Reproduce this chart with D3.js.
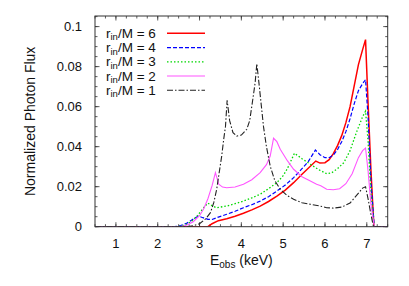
<!DOCTYPE html>
<html>
<head>
<meta charset="utf-8">
<script src="https://cdn.jsdelivr.net/npm/d3@7"></script>
<style>
  body { margin: 0; background: #fff; }
  text { font-family: "Liberation Sans", Arial, sans-serif; fill: #111; }
</style>
</head>
<body>
<svg id="chart" width="409" height="286"></svg>
<script>
// ---- data (E in keV, normalized flux) ----
var xTicks = [1, 2, 3, 4, 5, 6, 7];
var yTicks = [0, 0.02, 0.04, 0.06, 0.08, 0.1];
var radii = [6, 4, 3, 2, 1];

var e6 = [0.5, 3.2, 3.3, 3.45, 3.65, 3.85, 4.05, 4.25, 4.45, 4.65, 4.85, 5.05, 5.25, 5.45, 5.6, 5.78, 5.88, 6.0, 6.1, 6.2, 6.3, 6.4, 6.5, 6.6, 6.7, 6.8, 6.9, 6.97, 7.03, 7.1, 7.17, 7.5];
var f6 = [0, 0, 0.0015, 0.003, 0.004, 0.0052, 0.0067, 0.0084, 0.0103, 0.0126, 0.0153, 0.0183, 0.022, 0.0262, 0.0292, 0.0328, 0.0318, 0.032, 0.0335, 0.0365, 0.0405, 0.0455, 0.052, 0.06, 0.0705, 0.081, 0.0885, 0.0935, 0.062, 0.028, 0, 0];

var e4 = [0.5, 2.4, 2.55, 2.7, 2.85, 2.97, 3.08, 3.2, 3.3, 3.45, 3.65, 3.85, 4.05, 4.25, 4.45, 4.65, 4.85, 5.05, 5.25, 5.45, 5.6, 5.77, 5.88, 6.0, 6.1, 6.2, 6.3, 6.4, 6.5, 6.6, 6.7, 6.8, 6.9, 6.97, 7.03, 7.1, 7.18, 7.5];
var f4 = [0, 0, 0.0006, 0.0018, 0.0038, 0.0053, 0.0045, 0.0037, 0.0036, 0.0048, 0.0062, 0.0077, 0.0095, 0.011, 0.0128, 0.015, 0.0178, 0.0208, 0.0245, 0.029, 0.0325, 0.0383, 0.036, 0.0345, 0.0345, 0.0358, 0.0385, 0.0425, 0.0475, 0.054, 0.0615, 0.068, 0.0715, 0.0735, 0.055, 0.022, 0, 0];

var e3 = [0.5, 2.5, 2.65, 2.8, 2.95, 3.1, 3.2, 3.3, 3.4, 3.65, 3.85, 4.05, 4.25, 4.45, 4.65, 4.85, 5.0, 5.1, 5.27, 5.45, 5.65, 5.85, 6.04, 6.15, 6.3, 6.45, 6.6, 6.75, 6.9, 6.97, 7.03, 7.1, 7.18, 7.5];
var f3 = [0, 0, 0.0008, 0.0025, 0.0055, 0.0095, 0.0118, 0.0105, 0.0095, 0.0103, 0.0115, 0.0128, 0.0144, 0.0162, 0.019, 0.022, 0.0255, 0.029, 0.0367, 0.034, 0.0312, 0.0285, 0.0265, 0.0268, 0.029, 0.032, 0.038, 0.047, 0.055, 0.0577, 0.043, 0.016, 0, 0];

var e2 = [0.5, 2.55, 2.7, 2.85, 3.0, 3.1, 3.2, 3.3, 3.38, 3.46, 3.55, 3.65, 3.85, 4.05, 4.25, 4.45, 4.6, 4.69, 4.77, 4.85, 4.93, 5.1, 5.25, 5.45, 5.65, 5.8, 5.9, 6.04, 6.2, 6.35, 6.5, 6.65, 6.8, 6.9, 6.97, 7.03, 7.1, 7.18, 7.5];
var f2 = [0, 0, 0.0008, 0.0025, 0.0055, 0.009, 0.014, 0.0205, 0.027, 0.0212, 0.0198, 0.0195, 0.0198, 0.0212, 0.0235, 0.027, 0.031, 0.0353, 0.0442, 0.0425, 0.0387, 0.033, 0.0287, 0.025, 0.0228, 0.0212, 0.0205, 0.0187, 0.0185, 0.019, 0.0215, 0.0265, 0.0345, 0.038, 0.0393, 0.028, 0.011, 0, 0];

var e1 = [0.5, 2.7, 2.85, 3.0, 3.15, 3.26, 3.34, 3.41, 3.47, 3.53, 3.58, 3.62, 3.66, 3.72, 3.8, 3.89, 4.0, 4.13, 4.2, 4.29, 4.33, 4.37, 4.42, 4.48, 4.53, 4.6, 4.69, 4.8, 4.93, 5.1, 5.25, 5.45, 5.65, 5.85, 6.04, 6.2, 6.4, 6.6, 6.75, 6.9, 6.97, 7.03, 7.1, 7.16, 7.5];
var f1 = [0, 0, 0.0005, 0.0015, 0.004, 0.007, 0.012, 0.0187, 0.027, 0.0353, 0.044, 0.05, 0.0632, 0.053, 0.047, 0.0453, 0.0458, 0.0487, 0.053, 0.066, 0.072, 0.0815, 0.072, 0.06, 0.05, 0.04, 0.0303, 0.023, 0.0187, 0.0155, 0.0137, 0.012, 0.0112, 0.0105, 0.0095, 0.0093, 0.0098, 0.0118, 0.0155, 0.0193, 0.02, 0.014, 0.006, 0, 0];

var energies = [e6, e4, e3, e2, e1];
var fluxes = [f6, f4, f3, f2, f1];

// ---- styling ----
var colors = ['#ff0000', '#0000ff', '#00d800', '#ff55ff', '#222222'];
var dashes = [null, '4,2', '1.5,2', null, '6,2,1.5,2'];
var widths = [1.5, 1.2, 1.3, 1.1, 1.1];

var svg = d3.select('#chart'),
    margin = { left: 95, top: 16, right: 409 - 387.7, bottom: 286 - 226.7 },
    W = 409 - margin.left - margin.right,
    H = 286 - margin.top - margin.bottom;

var x = d3.scaleLinear().domain([0.5, 7.5]).range([0, W]),
    y = d3.scaleLinear().domain([0, 0.1053]).range([H, 0]);

var g = svg.append('g').attr('transform', 'translate(' + margin.left + ',' + margin.top + ')');

svg.append('defs').append('clipPath').attr('id', 'clip')
  .append('rect').attr('x', 0).attr('y', -2).attr('width', W).attr('height', H + 2);

// frame + inward ticks on all four sides
var minorX = d3.range(0.5, 7.5001, 0.25),
    minorY = d3.range(0, 0.1051, 0.005);

function tickLines(sel, vals, isX, len, far) {
  sel.selectAll(null).data(vals).enter().append('line')
    .attr('x1', function(d) { return isX ? x(d) : (far ? W : 0); })
    .attr('x2', function(d) { return isX ? x(d) : (far ? W - len : len); })
    .attr('y1', function(d) { return isX ? (far ? 0 : H) : y(d); })
    .attr('y2', function(d) { return isX ? (far ? len : H - len) : y(d); })
    .attr('stroke', '#333').attr('stroke-width', 0.8);
}
var ticks = g.append('g');
tickLines(ticks, minorX, true, 2.5, false);
tickLines(ticks, minorX, true, 2.5, true);
tickLines(ticks, xTicks, true, 4.5, false);
tickLines(ticks, xTicks, true, 4.5, true);
tickLines(ticks, minorY, false, 2.5, false);
tickLines(ticks, minorY, false, 2.5, true);
tickLines(ticks, yTicks, false, 4.5, false);
tickLines(ticks, yTicks, false, 4.5, true);

// tick labels
g.selectAll('.xl').data(xTicks).enter().append('text')
  .attr('x', function(d) { return x(d); }).attr('y', H + 21)
  .attr('text-anchor', 'middle').attr('font-size', 13)
  .text(function(d) { return d; });

g.selectAll('.yl').data(yTicks).enter().append('text')
  .attr('x', -13).attr('y', function(d) { return y(d) + 4.5; })
  .attr('text-anchor', 'end').attr('font-size', 13)
  .text(function(d) { return d; });

// curves
var line = d3.line()
  .x(function(d) { return x(d[0]); })
  .y(function(d) { return y(d[1]); });

var curves = g.append('g').attr('clip-path', 'url(#clip)');
radii.forEach(function(r, i) {
  var pts = energies[i].map(function(e, k) { return [e, fluxes[i][k]]; });
  curves.append('path')
    .datum(pts)
    .attr('d', line)
    .attr('fill', 'none')
    .attr('stroke', colors[i])
    .attr('stroke-width', widths[i])
    .attr('stroke-dasharray', dashes[i]);
});

g.append('rect').attr('width', W).attr('height', H)
  .attr('fill', 'none').attr('stroke', '#333').attr('stroke-width', 1);

// legend
var legend = svg.append('g');
radii.forEach(function(r, i) {
  var cy = 33.3 + i * 14.25;
  var t = legend.append('text').attr('x', 106).attr('y', cy + 4.5).attr('font-size', 13.5);
  t.append('tspan').text('r');
  t.append('tspan').attr('font-size', 9.5).attr('dy', 2.5).text('in');
  t.append('tspan').attr('dy', -2.5).text('/M = ' + r);
  legend.append('line')
    .attr('x1', 167).attr('x2', 205).attr('y1', cy).attr('y2', cy)
    .attr('stroke', colors[i]).attr('stroke-width', widths[i])
    .attr('stroke-dasharray', dashes[i]);
});

// axis titles
var xt = svg.append('text').attr('x', margin.left + W / 2).attr('y', 265)
  .attr('text-anchor', 'middle').attr('font-size', 14);
xt.append('tspan').text('E');
xt.append('tspan').attr('font-size', 10).attr('dy', 3).text('obs');
xt.append('tspan').attr('dy', -3).text(' (keV)');

svg.append('text')
  .attr('transform', 'translate(35,' + (margin.top + H / 2) + ') rotate(-90)')
  .attr('text-anchor', 'middle').attr('font-size', 14)
  .text('Normalized Photon Flux');
</script>
</body>
</html>
